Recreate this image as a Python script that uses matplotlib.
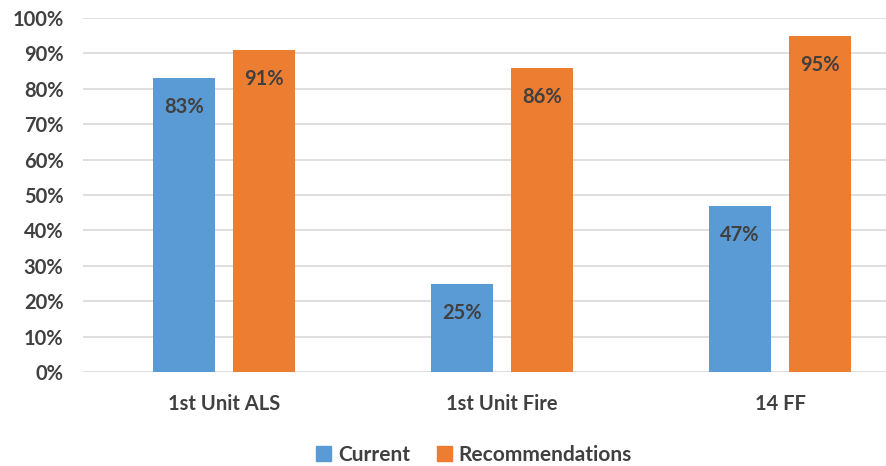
import numpy as np
import matplotlib
matplotlib.use("Agg")
import matplotlib.pyplot as plt
from matplotlib.patches import Patch

categories = ["1st Unit ALS", "1st Unit Fire", "14 FF"]
current = [83, 25, 47]
recommendations = [91, 86, 95]
yticks = list(range(0, 101, 10))

BLUE = "#5B9BD5"
ORANGE = "#ED7D31"
TEXT = "#404040"
FS = 14.5

plt.rcParams["font.family"] = ["Lato", "DejaVu Sans"]
plt.rcParams["font.weight"] = "bold"

fig = plt.figure(figsize=(8.86, 4.66), dpi=100)
W, H = 886, 466
ax = fig.add_axes([83 / W, (H - 372) / H, (886 - 83) / W, (372 - 18) / H])

x = np.arange(len(categories))
bw = 0.223
off = 0.144
b1 = ax.bar(x - off, current, bw, color=BLUE, zorder=3)
b2 = ax.bar(x + off, recommendations, bw, color=ORANGE, zorder=3)

# value labels just inside the top of each bar
for bars, vals in ((b1, current), (b2, recommendations)):
    for rect, v in zip(bars, vals):
        ax.annotate(f"{v}%", (rect.get_x() + rect.get_width() / 2, v),
                    xytext=(0, -21), textcoords="offset points",
                    ha="center", va="center", fontsize=FS,
                    fontweight="bold", color=TEXT, zorder=4)

ax.set_xlim(-0.507, 2.381)
ax.set_ylim(0, 100)
ax.set_yticks(yticks)
ax.set_yticklabels([f"{t}%" for t in yticks])
ax.set_xticks(x)
ax.set_xticklabels(categories)
ax.tick_params(axis="y", length=0, pad=14, labelsize=FS, labelcolor=TEXT)
ax.tick_params(axis="x", length=0, pad=16, labelsize=FS, labelcolor=TEXT)
for lab in ax.get_xticklabels() + ax.get_yticklabels():
    lab.set_fontweight("bold")

ax.grid(axis="y", color="#D9D9D9", linewidth=1.2, zorder=0)
for s in ax.spines.values():
    s.set_visible(False)

handles = [Patch(color=BLUE, label="Current"),
           Patch(color=ORANGE, label="Recommendations")]
fig.legend(handles=handles, loc="center", bbox_to_anchor=(474 / W, 1 - 455 / H),
           ncol=2, frameon=False, handlelength=0.7, handleheight=0.7,
           handletextpad=0.35, columnspacing=1.3,
           prop={"size": 15, "weight": "bold"}, labelcolor=TEXT)

fig.savefig("out.png", dpi=100)
